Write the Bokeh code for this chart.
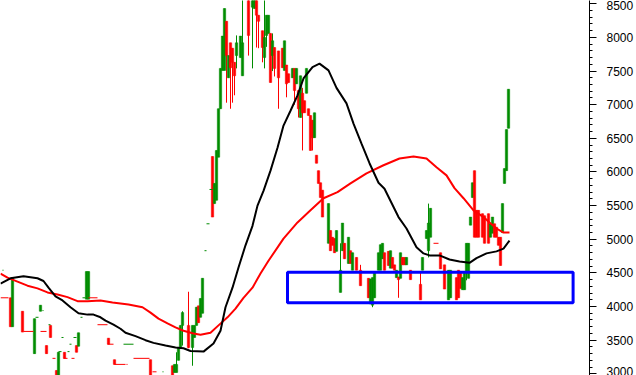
from bokeh.plotting import figure
from bokeh.models import Range1d, SingleIntervalTicker, ColumnDataSource
from bokeh.embed import file_html
from bokeh.resources import INLINE

# ---- candles (trading-day index, open, high, low, close) ----
days = [5, 6, 11, 17, 20, 23, 25, 28, 29, 32, 38, 39, 43, 44, 54, 57, 75, 86, 87, 88,
        89, 90, 91, 94, 96, 97, 98, 99, 100, 101, 106, 107, 108, 109, 110, 111, 112, 113, 114, 115,
        116, 117, 118, 120, 121, 124, 126, 127, 128, 129, 131, 132, 133, 134, 135, 136, 137, 139, 141, 142,
        143, 144, 146, 147, 148, 149, 150, 151, 152, 153, 154, 155, 156, 157, 158, 159, 160, 161, 164, 165,
        166, 167, 168, 170, 171, 172, 174, 175, 176, 178, 180, 184, 185, 186, 187, 189, 190, 191, 192, 194,
        195, 196, 197, 198, 199, 200, 201, 202, 203, 205, 210, 211, 213, 214, 215, 220, 222, 224, 225, 228,
        229, 230, 231, 232, 233, 234, 235, 236, 237, 238, 239, 241, 242, 244, 245, 246, 247, 248, 249, 250,
        251, 252, 253, 254]
opens = [4130, 3700, 3930, 3300, 3930, 3420, 3720, 3050, 2950, 3320, 3420, 3410, 4110, 4110, 3530, 3210, 3210, 3120, 3020, 3020,
         3200, 3390, 3720, 3720, 3390, 3540, 3720, 4010, 3840, 3900, 6230, 5530, 5580, 6220, 6940, 7510, 7510, 8240, 7400, 7920,
         7840, 7630, 7730, 7700, 7430, 8600, 8450, 8430, 8600, 8330, 8100, 7700, 8030, 8060, 8060, 7730, 7850, 7800, 7840, 7510,
         7590, 7460, 7400, 7540, 7310, 7210, 6810, 7170, 7060, 7170, 6940, 6840, 6770, 6510, 6250, 6020, 5840, 5730, 4940, 5130,
         5030, 5010, 4820, 4210, 4830, 4940, 4640, 4830, 4540, 4730, 4540, 4420, 4040, 4020, 4130, 4540, 4540, 4710, 4800, 4820,
         4570, 4730, 4620, 4430, 4440, 4420, 4730, 4730, 4620, 4540, 4330, 4540, 5010, 4830, 5030, 4800, 4620, 4100, 4130, 4430,
         4540, 4510, 4250, 4250, 4510, 4420, 5210, 5620, 6020, 5430, 5430, 5380, 5350, 5380, 5030, 5090, 5230, 5180, 5030, 5030,
         5100, 5830, 6020, 6650]
highs = [4130, 4430, 3930, 3820, 4020, 3420, 3720, 3050, 3320, 3320, 3420, 3610, 4520, 4520, 3530, 3210, 3210, 3120, 3140, 3320,
         3390, 3720, 3930, 4220, 3720, 3720, 3990, 4010, 4120, 4420, 6230, 5830, 6320, 6940, 7540, 8020, 8430, 8240, 7730, 7920,
         7840, 7630, 8030, 8020, 8600, 8600, 8600, 8600, 8600, 8330, 8100, 8600, 8330, 8330, 8060, 8060, 7850, 7800, 7840, 7950,
         7590, 7460, 7540, 7540, 7540, 7210, 7430, 7250, 7060, 7540, 6940, 6840, 6770, 6880, 6250, 6020, 5840, 5730, 5530, 5130,
         5030, 5010, 5130, 4940, 5240, 4940, 5030, 4830, 4800, 4730, 4620, 4420, 4410, 4430, 4510, 4800, 4920, 4940, 4800, 4820,
         4830, 4730, 4620, 4540, 4440, 4800, 4730, 4730, 4730, 4540, 4500, 4730, 5130, 5530, 5460, 4800, 4620, 4540, 4540, 4430,
         4540, 4510, 4430, 4510, 4940, 4940, 5330, 5840, 6020, 5430, 5430, 5380, 5350, 5380, 5230, 5330, 5230, 5180, 5030, 5030,
         5530, 6050, 6630, 7230]
lows = [3700, 3700, 3620, 3300, 3930, 3300, 3540, 2950, 2950, 3230, 3320, 3410, 4110, 4110, 3440, 3140, 2950, 2950, 3020, 3020,
        3200, 3390, 3420, 3380, 3120, 3540, 3720, 3760, 3840, 3900, 5330, 5530, 5580, 6220, 6940, 7510, 7510, 7030, 7400, 6940,
        7030, 7140, 7540, 7700, 7430, 7730, 7540, 8430, 7850, 7840, 7630, 7540, 7860, 8060, 7330, 7500, 7420, 6940, 7550, 7510,
        7110, 7330, 7400, 7000, 7310, 6810, 6810, 6320, 6880, 7170, 6840, 6320, 6320, 6510, 6130, 5830, 5620, 5330, 4940, 4830,
        4910, 4800, 4820, 4210, 4830, 4710, 4640, 4640, 4540, 4540, 4310, 4130, 4040, 3990, 4130, 4540, 4540, 4710, 4540, 4610,
        4570, 4570, 4540, 4430, 4130, 4420, 4620, 4620, 4620, 4400, 4100, 4540, 5010, 4730, 5030, 4560, 4260, 4100, 4130, 4100,
        4130, 4270, 4250, 4250, 4390, 4420, 5210, 5620, 5030, 5030, 5030, 5030, 4940, 4940, 5030, 5090, 5030, 5030, 4910, 4610,
        5100, 5830, 6020, 6650]
closes = [3700, 4430, 3620, 3820, 4020, 3300, 3540, 2950, 3320, 3230, 3320, 3610, 4520, 4520, 3440, 3140, 2950, 2950, 3140, 3140,
          3390, 3720, 3910, 3390, 3720, 3720, 3990, 3760, 4120, 4420, 5330, 5830, 6320, 6940, 7540, 8020, 8430, 7730, 7730, 7550,
          7630, 7430, 7920, 8020, 7920, 8030, 8600, 8600, 8330, 8240, 7850, 8000, 8330, 8330, 7330, 7950, 7540, 7400, 7550, 7950,
          7310, 7330, 7540, 7210, 7540, 6940, 7430, 6880, 6880, 7540, 6840, 6320, 6510, 6880, 6130, 5830, 5620, 5330, 5530, 4830,
          4910, 4800, 5130, 4540, 5240, 4710, 5030, 4640, 4800, 4540, 4310, 4130, 4410, 4430, 4510, 4800, 4920, 4940, 4540, 4610,
          4830, 4570, 4540, 4540, 4400, 4800, 4620, 4620, 4730, 4400, 4100, 4730, 5130, 5240, 5460, 4560, 4260, 4540, 4540, 4100,
          4130, 4270, 4430, 4510, 4940, 4940, 5330, 5840, 5030, 5030, 5030, 5030, 4940, 4940, 5230, 5330, 5030, 5030, 4910, 4610,
          5530, 6050, 6630, 7230]

# ---- unchanged-price stretches (no trading: first day, last day, price, up-colour) ----
flat_start = [0, 1, 11.5, 17.5, 20, 21, 24, 26, 29, 30.5, 31.5, 33.5, 34.5, 35.5, 36.5, 40, 41, 44, 48.5, 53.5,
              57, 61.5, 63, 66.5, 76, 81, 102, 103, 104.5, 216.5]
flat_end = [4, 1.5, 16.5, 19, 23, 21.5, 25, 27.5, 30.5, 31.5, 33.5, 34.5, 35.5, 37, 38, 41, 42.5, 48.5, 53.5, 56.5,
            62.5, 66.5, 63.5, 74.5, 78, 81.5, 103, 104.5, 106, 219]
flat_price = [4130, 4540, 3630, 3840, 3630, 3940, 3730, 3230, 3330, 3540, 3230, 3330, 3440, 3230, 3540, 3840, 4130, 4130, 3730, 3440,
              3140, 3440, 3140, 3230, 3030, 3030, 4830, 5230, 5740, 4940]
flat_up = [False, True, False, True, False, True, True, False, True, True, False, True, True, False, True, True, True, False, False, False,
           False, True, False, False, False, True, True, True, True, False]

# ---- moving averages ----
ma_short_days = [0, 5, 11.5, 18.5, 21.5, 24, 27.5, 31, 35, 39, 43.5, 46.5, 50, 52.5, 56.5, 60, 62.5, 67.5, 72.5, 76.5,
                 82.5, 87.5, 91.5, 95, 101.5, 106.5, 110, 112.5, 116, 119, 122.5, 126, 128.5, 131.5, 135, 138.5, 141.5, 145, 148.5, 151.5,
                 156, 159.5, 164, 168, 173, 176.5, 180.5, 184.5, 189, 192, 199, 203, 208, 211.5, 214.5, 219.5, 224.5, 229.5, 234.5, 238,
                 243, 248, 251.5, 254.5]
ma_short = [4340, 4420, 4450, 4420, 4380, 4280, 4150, 4090, 3990, 3900, 3880, 3880, 3840, 3790, 3730, 3670, 3610, 3560, 3500, 3460,
            3420, 3390, 3380, 3340, 3330, 3450, 3640, 3990, 4280, 4580, 4910, 5200, 5500, 5720, 6020, 6360, 6690, 6910, 7140, 7390,
            7560, 7610, 7510, 7250, 7020, 6720, 6420, 6130, 5840, 5750, 5330, 5160, 4880, 4790, 4760, 4760, 4700, 4670, 4650, 4720,
            4790, 4820, 4860, 4980]
ma_long_days = [0, 3.5, 8.5, 13.5, 18.5, 23.5, 28.5, 33.5, 38.5, 43.5, 50, 56, 64, 71, 75, 79, 83.5, 87.5, 91.5, 96.5,
                100, 105, 109, 113.5, 117.5, 121.5, 126, 130, 134, 141.5, 148.5, 155, 161.5, 168.5, 175, 183, 191.5, 199.5, 206.5, 213,
                218, 223, 227, 231.5, 236.5, 241.5, 244.5, 248, 251.5, 254.5]
ma_long = [4490, 4430, 4370, 4310, 4270, 4210, 4180, 4140, 4080, 4080, 4090, 4060, 4030, 3990, 3910, 3820, 3750, 3690, 3640, 3600,
           3580, 3610, 3720, 3840, 3970, 4130, 4280, 4490, 4680, 5010, 5250, 5430, 5610, 5700, 5830, 5980, 6100, 6200, 6230, 6200,
           6070, 5950, 5760, 5610, 5430, 5330, 5250, 5160, 5100, 5100]

# ---- support zone ----
zone_days = [143.5, 286.3]
zone_prices = [4055, 4510]

UP = "#008C00"
DOWN = "#FF0000"

p = figure(frame_width=589, frame_height=375, min_border=0,
           x_range=Range1d(0, 294.5), y_range=Range1d(2975, 8549),
           x_axis_location=None, y_axis_location="right",
           output_backend="svg", toolbar_location=None,
           background_fill_color="white", border_fill_color="white")
p.outline_line_color = None
p.xgrid.visible = False
p.ygrid.visible = False

# candles
col = [UP if c >= o else DOWN for o, c in zip(opens, closes)]
src = ColumnDataSource(dict(x=days, o=opens, h=highs, l=lows, c=closes,
                            top=[max(o, c) for o, c in zip(opens, closes)],
                            bot=[min(o, c) for o, c in zip(opens, closes)],
                            color=col))
p.segment(x0="x", y0="l", x1="x", y1="h", color="color", line_width=1, source=src)
p.vbar(x="x", width=1.2, top="top", bottom="bot", fill_color="color", line_color="color",
       line_width=0.5, source=src)

fsrc = ColumnDataSource(dict(x0=flat_start, x1=flat_end, y=flat_price,
                             color=[UP if u else DOWN for u in flat_up]))
p.segment(x0="x0", y0="y", x1="x1", y1="y", color="color", line_width=1, source=fsrc)

# moving averages
p.line(ma_long_days, ma_long, color=DOWN, line_width=2)
p.line(ma_short_days, ma_short, color="black", line_width=2)

# support zone
p.quad(left=[zone_days[0]], right=[zone_days[1]], bottom=[zone_prices[0]], top=[zone_prices[1]],
       fill_alpha=0, line_color="#0000FF", line_width=3)

ax = p.yaxis[0]
ax.ticker = SingleIntervalTicker(interval=500, num_minor_ticks=5)
ax.axis_line_color = "black"
ax.axis_line_width = 1
ax.major_tick_in = 0
ax.major_tick_out = 7
ax.minor_tick_in = 0
ax.minor_tick_out = 3
ax.major_tick_line_color = "black"
ax.minor_tick_line_color = "black"
ax.major_label_standoff = 10
ax.major_label_text_font = "Liberation Sans"
ax.major_label_text_font_size = "12px"
ax.major_label_text_color = "black"

open("out.html", "w").write(file_html(p, INLINE))
